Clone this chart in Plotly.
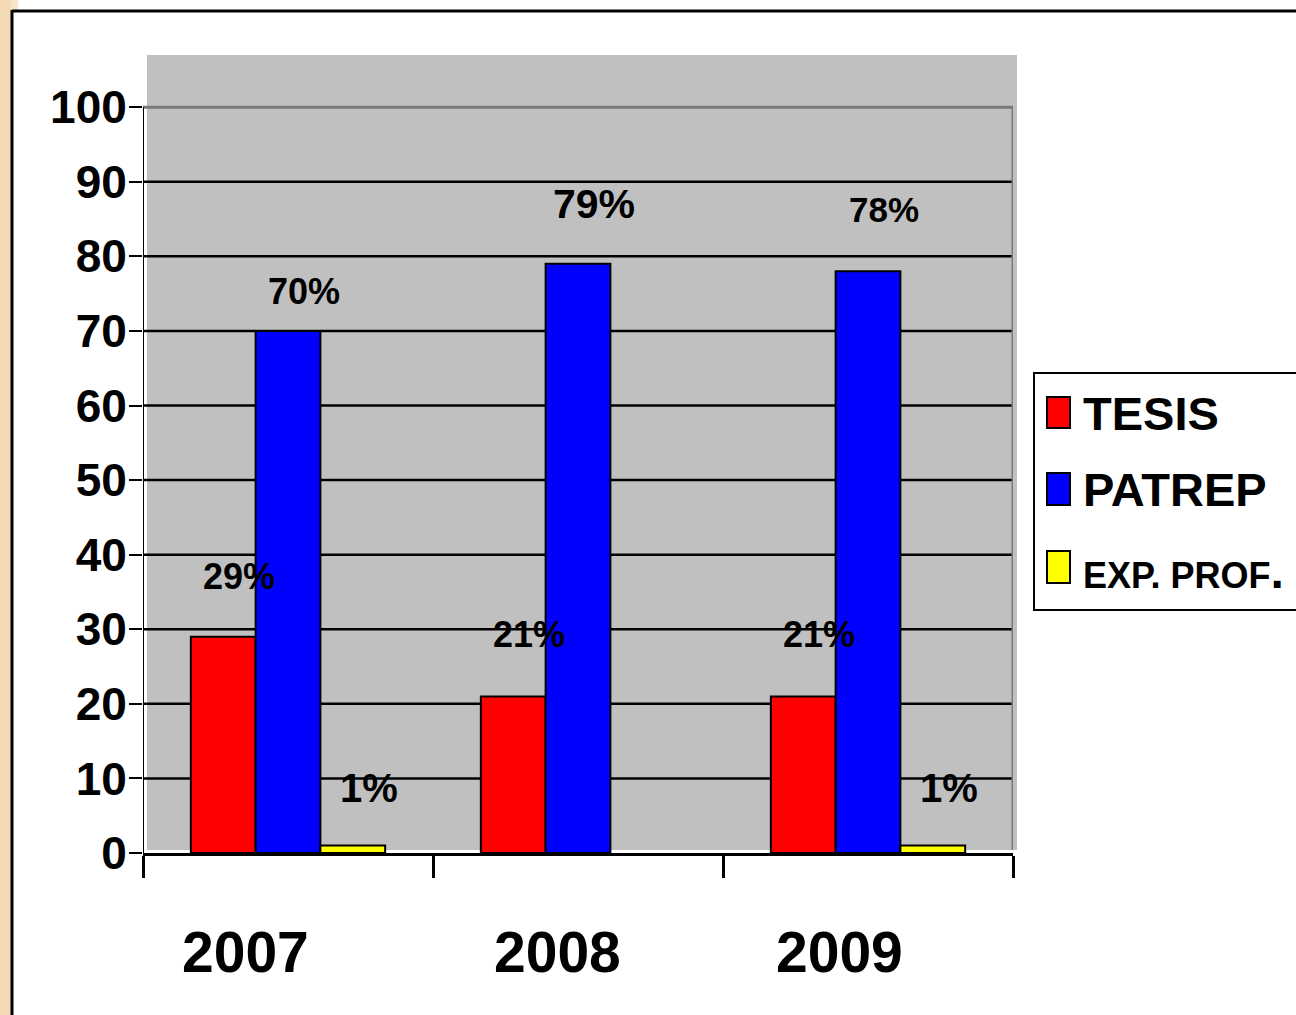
import plotly.graph_objects as go

# ---- data ----
years = ["2007", "2008", "2009"]
series_names = ["TESIS", "PATREP", "EXP. PROF."]
tesis = [29, 21, 21]
patrep = [70, 79, 78]
exp_prof = [1, 0, 1]
label_texts = [["29%", "21%", "21%"], ["70%", "79%", "78%"], ["1%", "", "1%"]]
y_ticks = [0, 10, 20, 30, 40, 50, 60, 70, 80, 90, 100]

# ---- style ----
W, H = 1296, 1015
ML, MR, MT, MB = 143, 283, 55, 162
PW, PH = W - ML - MR, H - MT - MB
FONT = "Liberation Sans, Arial, sans-serif"
colors = ["#ff0000", "#0000ff", "#ffff00"]
values = [tesis, patrep, exp_prof]


def px(x):
    return (x - ML) / PW


def py(y):
    return (H - MB - y) / PH


fig = go.Figure()
for name, vals, col in zip(series_names, values, colors):
    fig.add_trace(go.Bar(x=years, y=vals, name=name,
                         marker=dict(color=col, line=dict(color="black", width=[2 if v else 0 for v in vals])),
                         showlegend=False))

shapes = []
# beige strip at left
shapes.append(dict(type="rect", xref="paper", yref="paper", x0=px(0), x1=px(11), y0=py(H), y1=py(0),
                   fillcolor="#f3dab5", line=dict(width=0), layer="below"))
shapes.append(dict(type="rect", xref="paper", yref="paper", x0=px(11), x1=px(18), y0=py(11), y1=py(0),
                   fillcolor="#f8e4c6", line=dict(width=0), layer="below"))
# frame lines
shapes.append(dict(type="line", xref="paper", yref="paper", x0=px(12), x1=px(W), y0=py(11), y1=py(11),
                   line=dict(color="black", width=3)))
shapes.append(dict(type="line", xref="paper", yref="paper", x0=px(12), x1=px(12), y0=py(10), y1=py(H),
                   line=dict(color="black", width=3)))
# gray wall (slightly offset back, as in a 3D wall)
shapes.append(dict(type="rect", xref="paper", yref="y", x0=px(147), x1=px(1017), y0=0.4, y1=107,
                   fillcolor="#c0c0c0", line=dict(width=0), layer="below"))
# gridlines
for t in y_ticks[1:]:
    col = "#7a7a7a" if t == 100 else "black"
    shapes.append(dict(type="line", xref="x", yref="y", x0=-0.5, x1=2.5, y0=t, y1=t,
                       line=dict(color=col, width=2.5 if t < 100 else 3), layer="between"))
# wall right edge
shapes.append(dict(type="line", xref="x", yref="y", x0=2.5, x1=2.5, y0=0.4, y1=100,
                   line=dict(color="#7a7a7a", width=3), layer="between"))
# y axis line
shapes.append(dict(type="line", xref="x", yref="y", x0=-0.5, x1=-0.5, y0=0, y1=100,
                   line=dict(color="black", width=2), layer="above"))

# legend (manual, to match big swatches)
shapes.append(dict(type="rect", xref="paper", yref="paper", x0=px(1034), x1=px(1300), y0=py(610), y1=py(373),
                   fillcolor="white", line=dict(color="black", width=2)))
legend_y = [(397, 428, 413), (473, 505, 489), (551, 583, 571)]
legend_sizes = [47, 47, 36]
annotations = []
for i, name in enumerate(series_names):
    y0, y1, yc = legend_y[i]
    shapes.append(dict(type="rect", xref="paper", yref="paper", x0=px(1047), x1=px(1070), y0=py(y1), y1=py(y0),
                       fillcolor=colors[i], line=dict(color="black", width=2)))
    txt = name
    if name.endswith("."):
        txt = name[:-1] + "<span style='font-size:48px'>.</span>"
    annotations.append(dict(xref="paper", yref="paper", x=px(1081), y=py(yc), text="<b>" + txt + "</b>",
                            showarrow=False, xanchor="left", yanchor="middle",
                            font=dict(family=FONT, size=legend_sizes[i], color="black")))

# data labels (category axis: annotation x is the category index)
cw = PW / 3.0
bar_w = cw * (1 - 0.33) / 3
label_sizes = [[36, 36, 36], [36, 41, 35], [40, 40, 40]]
label_dy = [[60, 62, 62], [39, 60, 62], [58, 58, 58]]
for i in range(3):
    for j, yr in enumerate(years):
        if not label_texts[i][j]:
            continue
        annotations.append(dict(xref="x", yref="y", x=j, y=values[i][j], text="<b>" + label_texts[i][j] + "</b>",
                                showarrow=False, xanchor="center", yanchor="middle",
                                xshift=(i - 1) * bar_w + 16, yshift=label_dy[i][j],
                                font=dict(family=FONT, size=label_sizes[i][j], color="black")))

# year labels
year_xshift = [-43, -21, -29]
for j, yr in enumerate(years):
    annotations.append(dict(xref="x", yref="paper", x=j, y=py(952), text="<b>" + yr + "</b>", showarrow=False,
                            xanchor="center", yanchor="middle", xshift=year_xshift[j],
                            font=dict(family=FONT, size=57, color="black")))

fig.update_layout(
    width=W, height=H,
    margin=dict(l=ML, r=MR, t=MT, b=MB, pad=0),
    paper_bgcolor="white", plot_bgcolor="white",
    barmode="group", bargap=0.33, bargroupgap=0,
    showlegend=False,
    shapes=shapes, annotations=annotations,
    font=dict(family=FONT, color="black"),
)
fig.update_xaxes(type="category", range=[-0.5, 2.5], showline=True, linecolor="black", linewidth=3,
                 ticks="outside", tickson="boundaries", ticklen=22, tickwidth=2.5, tickcolor="black",
                 showticklabels=False, showgrid=False, zeroline=False, fixedrange=True)
fig.update_yaxes(range=[0, 107], tickvals=y_ticks, ticktext=["<b>%d</b>" % t for t in y_ticks],
                 ticks="outside", ticklen=13, tickwidth=2, tickcolor="black", ticklabelstandoff=-7,
                 tickfont=dict(family=FONT, size=46, color="black"),
                 showline=False, showgrid=False, zeroline=False, fixedrange=True)

fig.write_html("out.html", config={"displayModeBar": False},
               post_script="document.body.style.margin='0';document.body.style.padding='0';")
